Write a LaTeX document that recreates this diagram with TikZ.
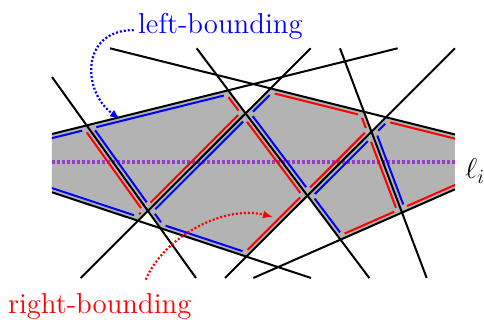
\documentclass[tikz,border=0pt]{standalone}
\usepackage{tikz}
\usetikzlibrary{arrows.meta,calc}
\definecolor{ZoneGray}{RGB}{179,179,179}
\definecolor{ZoneViolet}{RGB}{148,64,196}
\newcommand{\insd}{2pt}
\newcommand{\insgap}{1.5pt}
\newcommand{\insetedge}[5]{%
  \coordinate (p1) at ($(#1)!\insd!90:(#2)$);
  \coordinate (p2) at ($(#2)!\insd!-90:(#1)$);
  \coordinate (q1) at ($(#2)!\insd!90:(#3)$);
  \coordinate (q2) at ($(#3)!\insd!-90:(#2)$);
  \coordinate (r1) at ($(#3)!\insd!90:(#4)$);
  \coordinate (r2) at ($(#4)!\insd!-90:(#3)$);
  \coordinate (s) at (intersection of p1--p2 and q1--q2);
  \coordinate (t) at (intersection of q1--q2 and r1--r2);
  \draw[#5] ($(s)!\insgap!(t)$) -- ($(t)!\insgap!(s)$);}

\begin{document}
\begin{tikzpicture}[x=0.5pt,y=-0.5pt,
  cutline/.style={line width=1pt,black},
  lbound/.style={line width=1pt,blue},
  rbound/.style={line width=1pt,red},
  zoneline/.style={line width=1.6pt,ZoneViolet,dash pattern=on 1.4pt off 1.1pt},
  note/.style={font=\Large,inner sep=2pt},
  notearrow/.style={line width=1.1pt,dash pattern=on 1pt off 1pt,-{Latex[length=5pt,width=4pt]}}
]
\useasboundingbox (0,0) rectangle (484,320);

\coordinate (l1a) at (52,77);      \coordinate (l1b) at (196,278);
\coordinate (l2a) at (110,48.3);   \coordinate (l2b) at (455,134.5);
\coordinate (l3a) at (52,134);     \coordinate (l3b) at (397.7,48.3);
\coordinate (l4a) at (196.7,48.3); \coordinate (l4b) at (369.3,278);
\coordinate (l5a) at (310.7,48.3); \coordinate (l5b) at (80.7,278);
\coordinate (l6a) at (340,48.3);   \coordinate (l6b) at (426.7,278);
\coordinate (l7a) at (455,48.3);   \coordinate (l7b) at (225,278);
\coordinate (l8a) at (253.3,278);  \coordinate (l8b) at (455,189.3);
\coordinate (l9a) at (52,192.3);   \coordinate (l9b) at (311,278);
\coordinate (e1) at (32,0);  \coordinate (e2) at (32,320);
\coordinate (e3) at (475,0); \coordinate (e4) at (475,320);

\coordinate (v13) at (intersection of l1a--l1b and l3a--l3b);
\coordinate (v15) at (intersection of l1a--l1b and l5a--l5b);
\coordinate (v19) at (intersection of l1a--l1b and l9a--l9b);
\coordinate (v34) at (intersection of l3a--l3b and l4a--l4b);
\coordinate (v45) at (intersection of l4a--l4b and l5a--l5b);
\coordinate (v59) at (intersection of l5a--l5b and l9a--l9b);
\coordinate (v47) at (intersection of l4a--l4b and l7a--l7b);
\coordinate (v79) at (intersection of l7a--l7b and l9a--l9b);
\coordinate (v25) at (intersection of l2a--l2b and l5a--l5b);
\coordinate (v26) at (intersection of l2a--l2b and l6a--l6b);
\coordinate (v27) at (intersection of l2a--l2b and l7a--l7b);
\coordinate (v67) at (intersection of l6a--l6b and l7a--l7b);
\coordinate (v48) at (intersection of l4a--l4b and l8a--l8b);
\coordinate (v68) at (intersection of l6a--l6b and l8a--l8b);
\coordinate (x1) at (intersection of l3a--l3b and e1--e2);
\coordinate (x2) at (intersection of l9a--l9b and e1--e2);
\coordinate (x3) at (intersection of l8a--l8b and e3--e4);
\coordinate (x4) at (intersection of l2a--l2b and e3--e4);

\begin{scope}
\clip (52,0) rectangle (455,320);
\fill[ZoneGray] (x1) -- (x2) -- (v59) -- (v15) -- (v13) -- cycle;
\fill[ZoneGray] (v13) -- (v15) -- (v45) -- (v34) -- cycle;
\fill[ZoneGray] (v45) -- (v15) -- (v19) -- (v79) -- (v47) -- cycle;
\fill[ZoneGray] (v25) -- (v45) -- (v47) -- (v67) -- (v26) -- cycle;
\fill[ZoneGray] (v67) -- (v47) -- (v48) -- (v68) -- cycle;
\fill[ZoneGray] (v27) -- (v67) -- (v68) -- (x3) -- (x4) -- cycle;

\coordinate (m1) at (52,162); \coordinate (m2) at (455,162);
\draw[zoneline] (m1) -- (m2);

\insetedge{x1}{x2}{v59}{v15}{lbound}
\insetedge{x2}{v59}{v15}{v13}{rbound}
\insetedge{v59}{v15}{v13}{x1}{rbound}
\insetedge{v15}{v13}{x1}{x2}{lbound}

\insetedge{v34}{v13}{v15}{v45}{lbound}
\insetedge{v13}{v15}{v45}{v34}{rbound}
\insetedge{v15}{v45}{v34}{v13}{rbound}
\insetedge{v45}{v34}{v13}{v15}{lbound}

\insetedge{v47}{v45}{v15}{v19}{lbound}
\insetedge{v45}{v15}{v19}{v79}{lbound}
\insetedge{v15}{v19}{v79}{v47}{lbound}
\insetedge{v19}{v79}{v47}{v45}{rbound}
\insetedge{v79}{v47}{v45}{v15}{rbound}

\insetedge{v26}{v25}{v45}{v47}{lbound}
\insetedge{v25}{v45}{v47}{v67}{lbound}
\insetedge{v45}{v47}{v67}{v26}{rbound}
\insetedge{v47}{v67}{v26}{v25}{rbound}
\insetedge{v67}{v26}{v25}{v45}{rbound}

\insetedge{v68}{v67}{v47}{v48}{lbound}
\insetedge{v67}{v47}{v48}{v68}{lbound}
\insetedge{v47}{v48}{v68}{v67}{rbound}
\insetedge{v48}{v68}{v67}{v47}{rbound}

\insetedge{x4}{v27}{v67}{v68}{lbound}
\insetedge{v27}{v67}{v68}{x3}{lbound}
\insetedge{v67}{v68}{x3}{x4}{rbound}
\insetedge{x3}{x4}{v27}{v67}{rbound}
\end{scope}

\foreach \n in {1,...,9}
  \draw[cutline] (l\n a) -- (l\n b);

\node[note,text=blue,anchor=base] (lb) at (220.4,33.3) {left-bounding};
\node[note,text=red,anchor=base] (rb) at (99.7,314) {right-bounding};
\node[note,anchor=base west,inner sep=0pt] (li) at (465,179) {$\ell_i$};

\coordinate (ltip) at (120,119);
\coordinate (rtip) at (273,217);
\draw[notearrow,blue] ([yshift=-2pt]lb.west) .. controls (80,30) and (82,92) .. (ltip);
\draw[notearrow,red] ([xshift=23pt,yshift=5pt]rb.north) .. controls (165,235) and (225,205) .. (rtip);
\end{tikzpicture}
\end{document}
